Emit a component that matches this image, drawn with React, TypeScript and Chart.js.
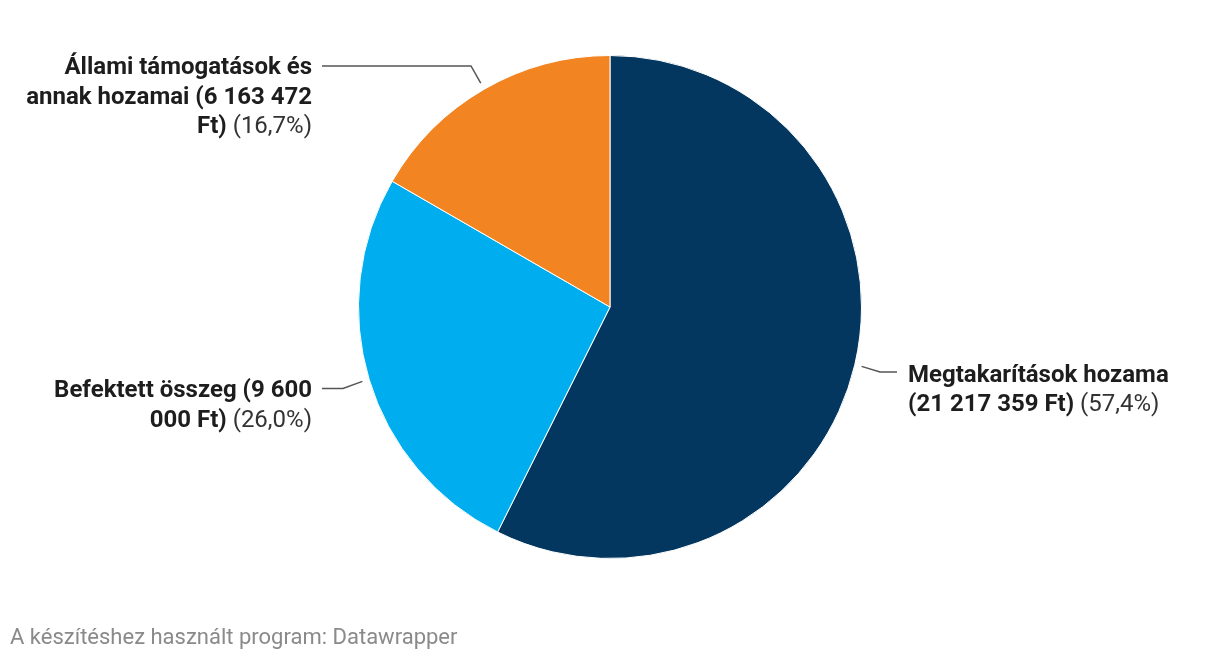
import React, { useEffect, useRef } from "react";
import { Chart, registerables } from "chart.js";

Chart.register(...registerables);

const categories = ["Megtakarítások hozama", "Befektett összeg", "Állami támogatások és annak hozamai"];
const values = [21217359, 9600000, 6163472];
const colors = ["#03375f", "#00aeef", "#f28522"];
const currency = "Ft";
const footerText = "A készítéshez használt program: Datawrapper";

const LABEL_FONT_SIZE = 24;
const LINE_HEIGHT = 29.5;
const WRAP_WIDTH = 291;

// layout of label placement per slice (not data); baseY = alphabetic baseline of first line
const labelLayout = [
  { side: "right", elbow: [880, 372], lineEnd: 897, textX: 908, baseY: 381.7 },
  { side: "left", elbow: [343, 388.5], lineEnd: 322, textX: 312, baseY: 397.3 },
  { side: "left", elbow: [471, 66], lineEnd: 322, textX: 312, baseY: 74.3 },
];

function fmtNumber(n: number): string {
  return String(n).replace(/\B(?=(\d{3})+(?!\d))/g, " ");
}

const labelPlugin = {
  id: "dwLabels",
  afterDatasetsDraw(chart: any) {
    const ctx = chart.ctx as CanvasRenderingContext2D;
    const meta = chart.getDatasetMeta(0);
    const data = chart.data.datasets[0].data as number[];
    const total = data.reduce((a, b) => a + b, 0);
    const boldFont = `bold ${LABEL_FONT_SIZE}px Roboto`;
    const normFont = `${LABEL_FONT_SIZE}px Roboto`;
    meta.data.forEach((arc: any, i: number) => {
      const lay = labelLayout[i];
      const mid = (arc.startAngle + arc.endAngle) / 2;
      const r = arc.outerRadius + 7;
      const sx = arc.x + Math.cos(mid) * r;
      const sy = arc.y + Math.sin(mid) * r;
      ctx.save();
      ctx.strokeStyle = "#555555";
      ctx.lineWidth = 1.5;
      ctx.beginPath();
      ctx.moveTo(sx, sy);
      ctx.lineTo(lay.elbow[0], lay.elbow[1]);
      ctx.lineTo(lay.lineEnd, lay.elbow[1]);
      ctx.stroke();

      const pct = ((data[i] / total) * 100).toFixed(1).replace(".", ",") + "%";
      const boldText = `${categories[i]} (${fmtNumber(data[i])} ${currency})`;
      const words: { t: string; bold: boolean }[] = [];
      boldText.split(" ").forEach((w) => words.push({ t: w, bold: true }));
      words.push({ t: `(${pct})`, bold: false });

      const measure = (w: { t: string; bold: boolean }) => {
        ctx.font = w.bold ? boldFont : normFont;
        return ctx.measureText(w.t).width;
      };
      ctx.font = normFont;
      const spaceW = ctx.measureText(" ").width;
      const lines: { t: string; bold: boolean }[][] = [];
      let cur: { t: string; bold: boolean }[] = [];
      let curW = 0;
      words.forEach((w) => {
        const ww = measure(w);
        const add = cur.length ? spaceW + ww : ww;
        if (cur.length && curW + add > WRAP_WIDTH) {
          lines.push(cur);
          cur = [w];
          curW = ww;
        } else {
          cur.push(w);
          curW += add;
        }
      });
      if (cur.length) lines.push(cur);

      ctx.textBaseline = "alphabetic";
      ctx.textAlign = "left";
      lines.forEach((line, li) => {
        const widths = line.map(measure);
        const lineW = widths.reduce((a, b) => a + b, 0) + spaceW * (line.length - 1);
        let x = lay.side === "right" ? lay.textX : lay.textX - lineW;
        const y = lay.baseY + li * LINE_HEIGHT;
        line.forEach((w, wi) => {
          ctx.font = w.bold ? boldFont : normFont;
          ctx.fillStyle = w.bold ? "#1d1d1d" : "#333333";
          ctx.fillText(w.t, x, y);
          x += widths[wi] + spaceW;
        });
      });
      ctx.restore();
    });
  },
};

export default function App() {
  const canvasRef = useRef<HTMLCanvasElement | null>(null);
  useEffect(() => {
    document.body.style.margin = "0";
    const chart = new Chart(canvasRef.current as HTMLCanvasElement, {
      type: "pie",
      data: {
        labels: categories,
        datasets: [
          {
            data: values,
            backgroundColor: colors,
            borderColor: "#ffffff",
            borderWidth: 1,
          },
        ],
      },
      options: {
        animation: false,
        responsive: false,
        maintainAspectRatio: false,
        layout: { padding: { top: 55, bottom: 103, left: 0, right: 0 } },
        plugins: {
          legend: { display: false },
          tooltip: { enabled: false },
        },
      },
      plugins: [labelPlugin],
    });
    return () => chart.destroy();
  }, []);
  return (
    <div style={{ position: "relative", width: 1220, height: 662, background: "#fff" }}>
      <canvas ref={canvasRef} width={1220} height={662} style={{ position: "absolute", left: 0, top: 0 }} />
      <div
        style={{
          position: "absolute",
          left: 10,
          top: 624,
          fontFamily: "Roboto",
          fontSize: 22,
          color: "#8a8a8a",
          lineHeight: "26px",
          whiteSpace: "nowrap",
        }}
      >
        {footerText}
      </div>
    </div>
  );
}
